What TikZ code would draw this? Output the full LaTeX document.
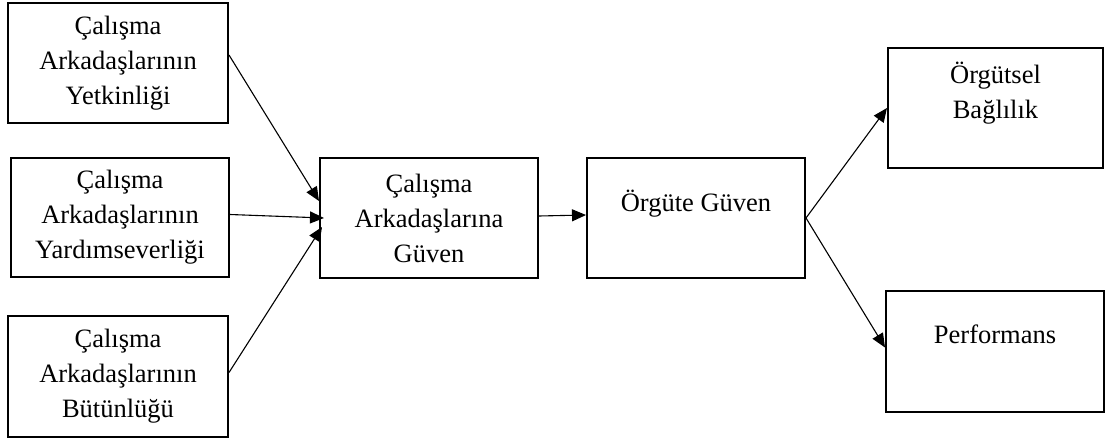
\documentclass[tikz,border=0pt]{standalone}
\usepackage{fontspec}
\setmainfont{Liberation Serif}
\usepackage{tikz}
\usetikzlibrary{arrows.meta,positioning}
\newcommand{\kutufont}{\fontsize{26.5pt}{35pt}\selectfont}

\begin{document}
\begin{tikzpicture}[x=1pt,y=-1pt,
  kutu/.style={draw,line width=2pt,rectangle,align=center,inner sep=0pt,
               font=\kutufont},
  ok/.style={-{Triangle[length=14pt,width=12pt]},line width=1.1pt}]
\useasboundingbox (0,0) rectangle (1105,441);
% Left column: three antecedents
\node[kutu,minimum width=220pt,minimum height=120pt] (yetkin) at (118,63)
  {Çalışma\\Arkadaşlarının\\Yetkinliği};
\node[kutu,minimum width=218pt,minimum height=119pt] (yardim) at (120,217.5)
  {Çalışma\\Arkadaşlarının\\Yardımseverliği};
\node[kutu,minimum width=220pt,minimum height=121pt] (butun) at (118,376.5)
  {Çalışma\\Arkadaşlarının\\Bütünlüğü};
% Middle: trust
\node[kutu,minimum width=218pt,minimum height=120pt] (guven) at (429,218)
  {Çalışma\\Arkadaşlarına\\Güven};
\node[kutu,minimum width=218pt,minimum height=120pt] (orgut) at (696,218)
  {Örgüte Güven\\\mbox{}};
% Right column: outcomes
\node[kutu,minimum width=215pt,minimum height=120pt] (bagli) at (995.5,108)
  {Örgütsel\\Bağlılık\\\mbox{}};
\node[kutu,minimum width=218pt,minimum height=121pt] (perf) at (995,351.5)
  {Performans\\\mbox{}};
% Arrows
\draw[ok] ([yshift=8pt]yetkin.east) -- ([yshift=17pt]guven.west);
\draw[ok] ([yshift=3pt]yardim.east) -- ([xshift=5pt]guven.west);
\draw[ok] ([yshift=4pt]butun.east) -- ([xshift=3pt,yshift=-9pt]guven.west);
\draw[ok] ([yshift=2pt]guven.east) -- ([yshift=3pt]orgut.west);
\draw[ok] (orgut.east) -- (bagli.west);
\draw[ok] (orgut.east) -- ([yshift=4pt]perf.west);
\end{tikzpicture}
\end{document}
